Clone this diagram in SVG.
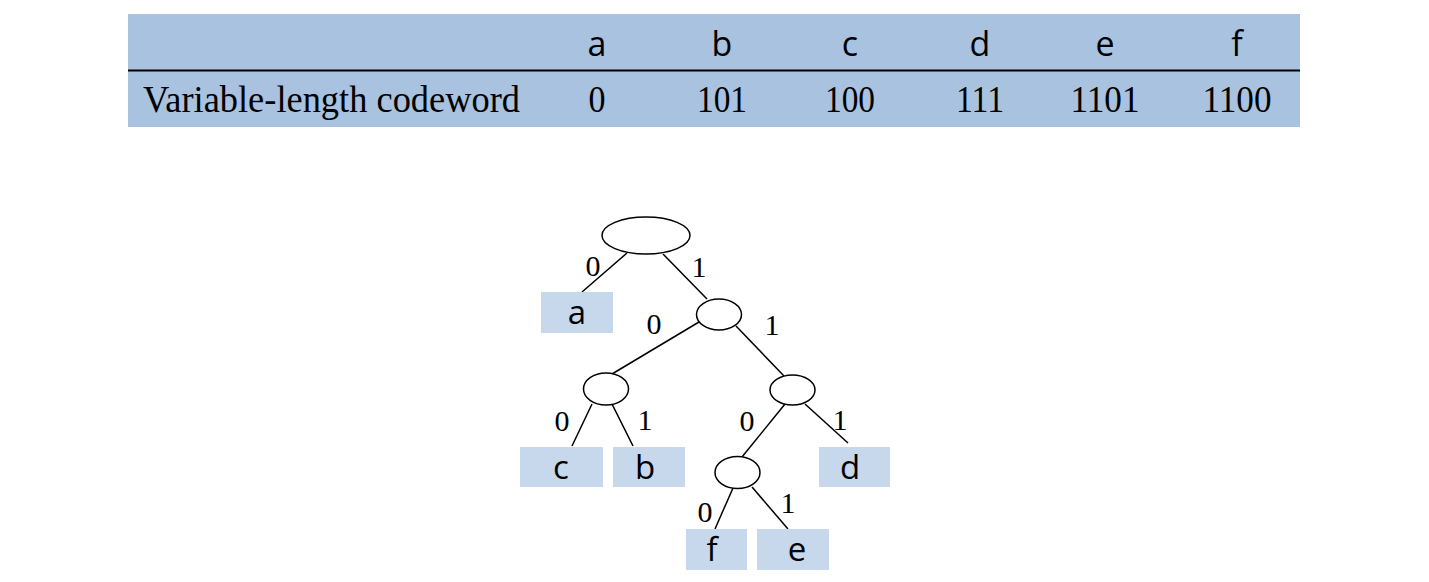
<svg xmlns="http://www.w3.org/2000/svg" width="1429" height="582" viewBox="0 0 1429 582">
<style>
.hdr{font-family:"Open Sans","DejaVu Sans",sans-serif;font-size:34px;fill:#000;text-anchor:middle}
.num{font-family:"Liberation Serif","Times New Roman",serif;font-size:37px;fill:#000;text-anchor:middle}
.lbl{font-family:"Liberation Serif","Times New Roman",serif;font-size:30px;fill:#000;text-anchor:middle}
.leaf rect{fill:#C8D8EC}
.leaf text{font-family:"Open Sans","DejaVu Sans",sans-serif;font-size:33px;fill:#000;text-anchor:middle}
.inner ellipse{fill:#fff;stroke:#000;stroke-width:1.5}
.edge{stroke:#000;stroke-width:1.5;fill:none}
</style>
<rect width="1429" height="582" fill="#fff"/>
<g id="table">
<rect x="128" y="14" width="1172" height="113" fill="#A9C2DF"/>
<line x1="128" y1="70.5" x2="1300" y2="70.5" stroke="#000" stroke-width="2"/>
<text class="hdr" x="597" y="56">a</text>
<text class="hdr" x="722" y="56">b</text>
<text class="hdr" x="850" y="56">c</text>
<text class="hdr" x="980" y="56">d</text>
<text class="hdr" x="1105" y="56">e</text>
<text class="hdr" x="1237" y="56">f</text>
<text class="num" x="143" y="112" style="text-anchor:start" textLength="377" lengthAdjust="spacingAndGlyphs">Variable-length codeword</text>
<text class="num" x="597" y="112" textLength="17" lengthAdjust="spacingAndGlyphs">0</text>
<text class="num" x="722" y="112" textLength="50" lengthAdjust="spacingAndGlyphs">101</text>
<text class="num" x="850" y="112" textLength="50" lengthAdjust="spacingAndGlyphs">100</text>
<text class="num" x="980" y="112" textLength="48" lengthAdjust="spacingAndGlyphs">111</text>
<text class="num" x="1105" y="112" textLength="69" lengthAdjust="spacingAndGlyphs">1101</text>
<text class="num" x="1237" y="112" textLength="69" lengthAdjust="spacingAndGlyphs">1100</text>
</g>
<g id="connectors">
<line class="edge" x1="627" y1="253" x2="582" y2="292"/>
<line class="edge" x1="663" y1="254" x2="707" y2="299"/>
<line class="edge" x1="699" y1="322" x2="612" y2="374"/>
<line class="edge" x1="736" y1="326" x2="784" y2="376"/>
<line class="edge" x1="592" y1="404" x2="572" y2="446"/>
<line class="edge" x1="612" y1="404" x2="633" y2="446"/>
<line class="edge" x1="785" y1="404" x2="742" y2="457"/>
<line class="edge" x1="805" y1="404" x2="848" y2="443"/>
<line class="edge" x1="733" y1="488" x2="715" y2="529"/>
<line class="edge" x1="752" y1="487" x2="788" y2="529"/>
<text class="lbl" x="593" y="276">0</text>
<text class="lbl" x="699" y="277">1</text>
<text class="lbl" x="654" y="334">0</text>
<text class="lbl" x="772" y="335">1</text>
<text class="lbl" x="562" y="431">0</text>
<text class="lbl" x="645" y="430">1</text>
<text class="lbl" x="747" y="431">0</text>
<text class="lbl" x="840" y="430">1</text>
<text class="lbl" x="705" y="522">0</text>
<text class="lbl" x="788" y="513">1</text>
</g>
<g id="root" class="inner"><ellipse cx="646" cy="235.5" rx="44" ry="18.5"/></g>
<g id="n1" class="inner"><ellipse cx="719" cy="314.5" rx="22.5" ry="15.5"/></g>
<g id="n10" class="inner"><ellipse cx="606" cy="389" rx="22.5" ry="16"/></g>
<g id="n11" class="inner"><ellipse cx="792.5" cy="390" rx="22.5" ry="15"/></g>
<g id="n110" class="inner"><ellipse cx="737.5" cy="472.5" rx="22.5" ry="16"/></g>
<g id="leaf-a" class="leaf"><rect x="541" y="292" width="72" height="41"/><text x="577" y="324">a</text></g>
<g id="leaf-c" class="leaf"><rect x="520" y="447" width="83" height="40"/><text x="561" y="479">c</text></g>
<g id="leaf-b" class="leaf"><rect x="613" y="447" width="72" height="40"/><text x="645" y="479">b</text></g>
<g id="leaf-d" class="leaf"><rect x="819" y="447" width="71" height="40"/><text x="850" y="479">d</text></g>
<g id="leaf-f" class="leaf"><rect x="686" y="529" width="61" height="41"/><text x="712" y="561">f</text></g>
<g id="leaf-e" class="leaf"><rect x="757" y="529" width="72" height="41"/><text x="797" y="561">e</text></g>
</svg>
